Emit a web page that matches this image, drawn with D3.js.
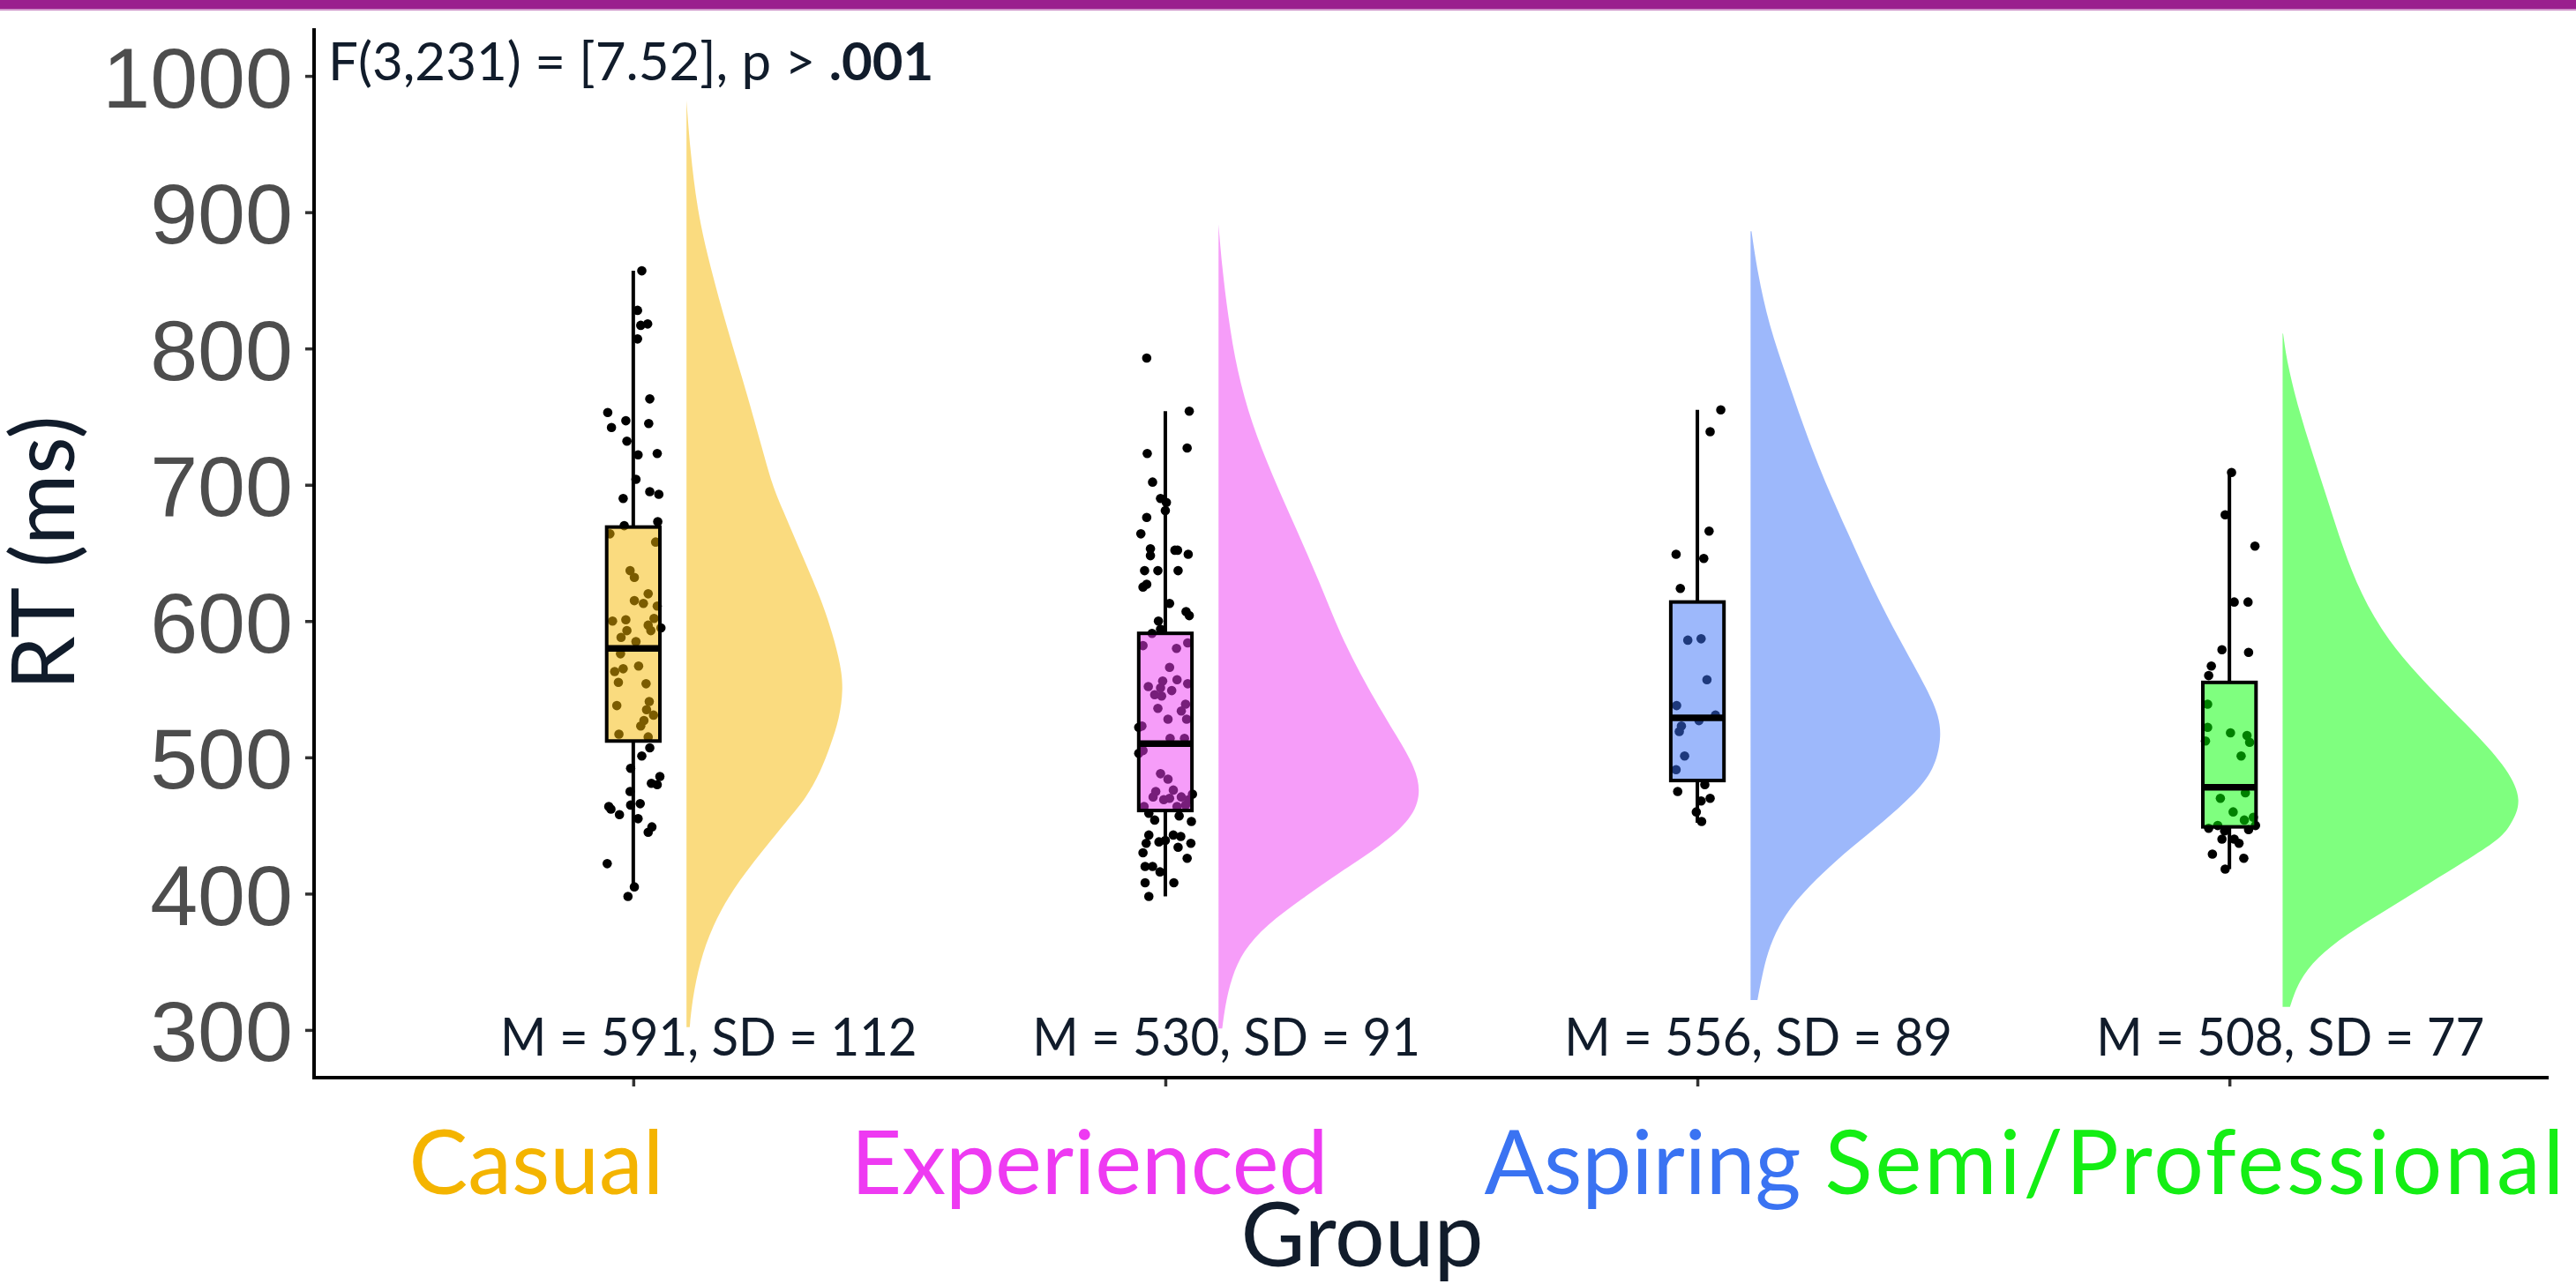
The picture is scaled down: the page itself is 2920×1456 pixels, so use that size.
<!DOCTYPE html>
<html>
<head>
<meta charset="utf-8">
<script src="https://cdn.jsdelivr.net/npm/d3@7"></script>
<style>
  html, body { margin: 0; padding: 0; background: #ffffff; }
  svg { display: block; }
</style>
</head>
<body>
<svg id="chart" width="2920" height="1456"></svg>
<script>
// ---- data -------------------------------------------------------------
const groups = ["Casual", "Experienced", "Aspiring", "Semi/Professional"];
const groupColors = ["#F5B800", "#EE3CF4", "#3B72F8", "#00FF00"];
const labelColors = ["#F4B400", "#EE3AF2", "#3A73F2", "#14EE14"];

const means = [591, 530, 556, 508];
const sds = [112, 91, 89, 77];

const yTicks = [300, 400, 500, 600, 700, 800, 900, 1000];

// box statistics: [lower whisker, Q1, median, Q3, upper whisker]
const boxCasual = [404, 512, 580, 669, 857];
const boxExperienced = [398, 461, 510, 591, 754];
const boxAspiring = [452, 483, 529, 614, 755];
const boxSemiPro = [418, 449, 478, 555, 709];

// density profile of each group: [RT (ms), density x 1000]
const densCasual = [
  [982, 0.00], [946, 0.08], [902, 0.23], [862, 0.50], [813, 0.90], [768, 1.31],
  [724, 1.67], [700, 1.87], [683, 2.08], [653, 2.46], [616, 2.94], [590, 3.19],
  [568, 3.36], [550, 3.42], [528, 3.33], [510, 3.15], [489, 2.92], [470, 2.60],
  [456, 2.25], [430, 1.62], [403, 1.00], [376, 0.56], [350, 0.29], [323, 0.13],
  [302, 0.07]
];
const densExperienced = [
  [891, 0.00], [862, 0.07], [823, 0.21], [784, 0.40], [745, 0.72], [707, 1.17],
  [668, 1.69], [629, 2.20], [590, 2.65], [552, 3.23], [513, 3.93], [493, 4.28],
  [474, 4.42], [455, 4.22], [435, 3.54], [416, 2.65], [396, 1.81], [377, 1.04],
  [358, 0.53], [338, 0.28], [319, 0.15], [301, 0.08]
];
const densAspiring = [
  [886, 0.02], [856, 0.15], [817, 0.40], [779, 0.79], [741, 1.17], [702, 1.62],
  [664, 2.13], [625, 2.65], [587, 3.23], [549, 3.87], [530, 4.11], [514, 4.16],
  [491, 4.01], [472, 3.54], [453, 2.90], [434, 2.20], [415, 1.56], [395, 0.98],
  [376, 0.60], [357, 0.37], [338, 0.24], [322, 0.15]
];
const densSemiPro = [
  [811, 0.01], [789, 0.10], [755, 0.35], [721, 0.67], [688, 0.99], [654, 1.31],
  [620, 1.70], [586, 2.28], [552, 3.17], [518, 4.20], [491, 4.92], [468, 5.23],
  [451, 4.98], [441, 4.77], [427, 4.13], [407, 3.17], [387, 2.21], [370, 1.38],
  [353, 0.74], [336, 0.35], [317, 0.16]
];

// individual reaction times: [RT (ms), horizontal jitter in % of category step]
const ptsCasual = [
  [857, 1.6], [828, 0.8], [817, 1.4], [818, 2.7], [807, 0.8], [763, 3.1],
  [753, -4.8], [742, -4.1], [747, -1.4], [745, 2.9], [732, -1.2], [722, 0.9],
  [723, 4.5], [704, 0.5], [695, 3.1], [693, 4.8], [690, -1.9], [670, -1.7],
  [673, 4.6], [664, -4.4], [658, 4.2], [637, -0.6], [632, 0.2], [620, 2.8],
  [615, 0.2], [613, 1.9], [611, 4.5], [600, -3.9], [601, -1.4], [597, 2.8],
  [602, 3.9], [593, -1.2], [593, 3.3], [588, -2.3], [595, 5.2], [585, 0.5],
  [576, -2.4], [563, -3.5], [565, -1.9], [567, 1.0], [555, -2.8], [554, 2.4],
  [538, -3.1], [541, 3.0], [535, 2.5], [531, 3.8], [527, 2.0], [523, 1.4],
  [517, -2.7], [515, 2.8], [507, 3.1], [501, 1.6], [492, -0.5], [486, 5.0],
  [481, 3.4], [480, 4.5], [475, -0.6], [464, -4.6], [462, -4.2], [465, -0.5],
  [466, 1.3], [458, -2.6], [455, 0.9], [449, 3.5], [445, 2.8], [422, -4.9],
  [405, 0.2], [398, -1.0]
];
const ptsExperienced = [
  [793, -3.5], [754, 4.5], [723, -3.4], [727, 4.1], [702, -2.4], [690, -0.9],
  [687, 0.2], [681, 0.0], [676, -3.5], [664, -4.6], [653, -2.8], [648, -2.8],
  [652, 1.8], [652, 2.3], [649, 4.3], [637, -3.9], [637, -1.4], [637, 2.4],
  [625, -4.2], [627, -3.5], [613, 0.8], [607, 3.9], [604, 4.5], [600, -1.3],
  [591, -2.5], [594, -0.9], [582, -4.2], [580, 2.1], [584, 4.2], [566, 0.8],
  [552, -3.2], [556, -0.5], [557, 2.2], [554, 4.2], [551, -0.9], [546, -2.0],
  [545, -0.7], [549, 1.2], [536, -1.4], [539, 3.8], [534, 3.0], [528, 0.5],
  [528, 4.0], [523, -4.4], [522, -5.0], [514, 0.9], [514, 3.6], [505, -4.2],
  [503, -5.0], [488, -0.9], [484, 0.5], [476, 1.5], [475, -1.8], [471, -2.3],
  [469, -0.3], [470, 0.8], [471, 3.0], [469, 4.4], [473, 5.1], [464, -4.0],
  [464, 2.2], [465, 3.8], [459, -3.1], [454, -2.0], [457, 2.6], [453, 4.9],
  [443, -3.1], [438, -1.2], [439, 0.0], [443, 1.5], [442, 2.9], [437, -3.6],
  [434, 2.4], [437, 4.8], [430, -4.2], [420, -3.8], [420, -2.4], [416, -1.0],
  [426, 4.1], [408, -3.8], [408, 1.6], [398, -3.1]
];
const ptsAspiring = [
  [755, 4.4], [739, 2.4], [666, 2.2], [649, -4.0], [646, 1.2], [624, -3.2],
  [586, -1.8], [587, 0.7], [557, 1.8], [538, -3.9], [531, 3.4], [527, 0.3],
  [523, -3.0], [519, -3.4], [501, -2.4], [491, -4.0], [480, 1.4], [475, -3.7],
  [468, 0.7], [470, 2.4], [460, -0.2], [453, 0.8]
];
const ptsSemiPro = [
  [709, 0.4], [678, -0.8], [655, 4.8], [614, 0.9], [614, 3.5], [579, -1.4],
  [577, 3.6], [567, -3.4], [560, -3.9], [539, -4.1], [522, -4.1], [518, 0.2],
  [516, 3.3], [512, -4.5], [511, 3.8], [501, 2.2], [470, -1.7], [474, 3.0],
  [460, 0.7], [454, 2.8], [456, 4.5], [448, -3.9], [450, -2.2], [447, 3.6],
  [450, 4.9], [446, -0.9], [440, -1.4], [440, 0.9], [437, 1.8], [429, -3.2],
  [426, 2.7], [418, -0.8]
];

const boxes = [boxCasual, boxExperienced, boxAspiring, boxSemiPro];
const densities = [densCasual, densExperienced, densAspiring, densSemiPro];
const points = [ptsCasual, ptsExperienced, ptsAspiring, ptsSemiPro];

// ---- layout -----------------------------------------------------------
const W = 2920, H = 1456;
const plot = { left: 356, right: 2889, top: 32, bottom: 1222 };
const ink = "#111c2b";
const sans = "Lato, 'Noto Sans', sans-serif";

const svg = d3.select("#chart");

const x = d3.scalePoint().domain(groups).range([plot.left, plot.right]).padding(0.6);
const step = x.step();
const y = d3.scaleLinear().domain([265, 1035]).range([plot.bottom, plot.top]);
const densW = d3.scaleLinear().domain([0, 1]).range([0, 52]);
// group names sit on their own row, spread a little wider than the ticks
const labelX = d3.scalePoint().domain(groups).range([608, 2489]);
const labelSpacing = [0, 0, 0, 3];

// header band
svg.append("rect").attr("x", 0).attr("y", 0).attr("width", W).attr("height", 10).attr("fill", "#9A1F8E");
svg.append("rect").attr("x", 0).attr("y", 10).attr("width", W).attr("height", 2).attr("fill", "#CF93C9");

const g = svg.append("g");

groups.forEach((grp, i) => {
  const cx = x(grp);
  const col = groupColors[i];

  // half violin to the right of the box
  const x0 = cx + 0.1 * step;
  const area = d3.area()
    .y(d => y(d[0]))
    .x0(x0)
    .x1(d => x0 + densW(d[1]))
    .curve(d3.curveBasis);
  g.append("path")
    .datum(densities[i])
    .attr("d", area)
    .attr("fill", col)
    .attr("fill-opacity", 0.5);

  // jittered raw points
  g.append("g").selectAll("circle")
    .data(points[i])
    .join("circle")
    .attr("cx", d => cx + d[1] / 100 * step)
    .attr("cy", d => y(d[0]))
    .attr("r", 5.3)
    .attr("fill", "#000");

  // boxplot
  const [lo, q1, med, q3, hi] = boxes[i];
  const bw = 0.1 * step;
  const bg = g.append("g");
  bg.append("line").attr("x1", cx).attr("x2", cx).attr("y1", y(hi)).attr("y2", y(q3))
    .attr("stroke", "#000").attr("stroke-width", 4);
  bg.append("line").attr("x1", cx).attr("x2", cx).attr("y1", y(q1)).attr("y2", y(lo))
    .attr("stroke", "#000").attr("stroke-width", 4);
  bg.append("rect")
    .attr("x", cx - bw / 2).attr("width", bw)
    .attr("y", y(q3)).attr("height", y(q1) - y(q3))
    .attr("fill", col).attr("fill-opacity", 0.5)
    .attr("stroke", "#000").attr("stroke-width", 4);
  bg.append("line").attr("x1", cx - bw / 2).attr("x2", cx + bw / 2).attr("y1", y(med)).attr("y2", y(med))
    .attr("stroke", "#000").attr("stroke-width", 7.5);

  // summary text
  g.append("text")
    .attr("transform", `translate(${cx - 0.25 * step},1197) scale(0.94,1)`)
    .attr("font-family", sans)
    .attr("font-size", 60)
    .attr("fill", ink)
    .text(`M = ${means[i]}, SD = ${sds[i]}`);

  // coloured group label
  svg.append("text")
    .attr("x", labelX(grp))
    .attr("y", 1354)
    .attr("text-anchor", "middle")
    .attr("font-family", sans)
    .attr("font-size", 100)
    .attr("letter-spacing", labelSpacing[i])
    .attr("fill", labelColors[i])
    .text(grp);
});

// y axis ticks and labels
const yAxis = d3.axisLeft(y).tickValues(yTicks).tickSize(10).tickPadding(14).tickFormat(d3.format("d"));
const ya = svg.append("g").attr("transform", `translate(${plot.left},0)`).call(yAxis);
ya.select(".domain").remove();
ya.selectAll(".tick line").attr("stroke", "#333333").attr("stroke-width", 3.5);
ya.selectAll(".tick text")
  .attr("font-family", "'Liberation Sans', Arial, sans-serif")
  .attr("font-size", 97)
  .attr("fill", "#4D4D4D")
  .attr("dy", "0.36em");

// x axis ticks
const xAxis = d3.axisBottom(x).tickSize(10).tickFormat("");
const xa = svg.append("g").attr("transform", `translate(0,${plot.bottom})`).call(xAxis);
xa.select(".domain").remove();
xa.selectAll(".tick line").attr("stroke", "#333333").attr("stroke-width", 3.5);

// axis lines
svg.append("line").attr("x1", plot.left).attr("x2", plot.left).attr("y1", plot.top).attr("y2", plot.bottom + 2)
  .attr("stroke", "#000").attr("stroke-width", 4);
svg.append("line").attr("x1", plot.left - 2).attr("x2", plot.right).attr("y1", plot.bottom).attr("y2", plot.bottom)
  .attr("stroke", "#000").attr("stroke-width", 4);

// test statistic
const ft = svg.append("text")
  .attr("x", 372).attr("y", 91)
  .attr("font-family", sans).attr("font-size", 60).attr("fill", ink);
ft.append("tspan").text("F(3,231) = [7.52], p > ");
ft.append("tspan").attr("font-weight", 700).text(".001");

// axis titles
svg.append("text")
  .attr("transform", `translate(84,${(plot.top + plot.bottom) / 2}) rotate(-90)`)
  .attr("text-anchor", "middle")
  .attr("font-family", sans).attr("font-size", 98).attr("fill", ink)
  .text("RT (ms)");
svg.append("text")
  .attr("x", 1544).attr("y", 1436)
  .attr("text-anchor", "middle")
  .attr("font-family", sans).attr("font-size", 100).attr("fill", ink)
  .text("Group");
</script>
</body>
</html>
